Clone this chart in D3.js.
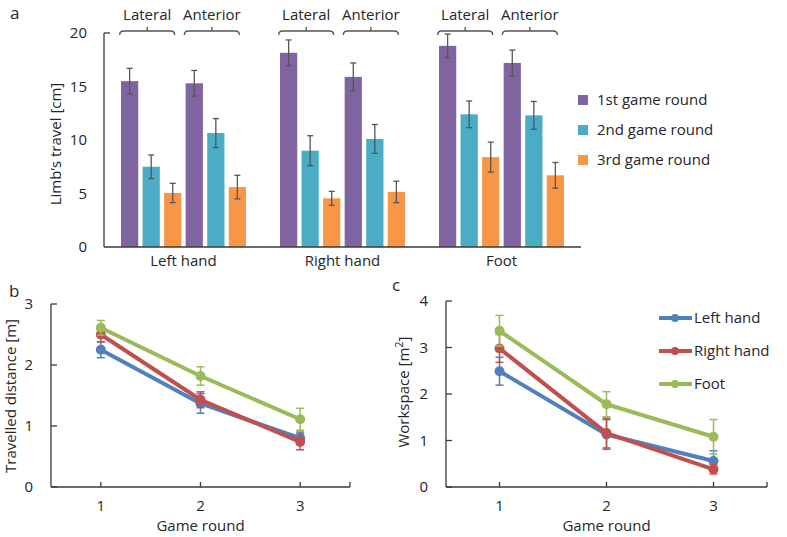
<!DOCTYPE html>
<html>
<head>
<meta charset="utf-8">
<script src="https://cdn.jsdelivr.net/npm/d3@7"></script>
<style>
  body { margin: 0; background: #fff; }
  svg text { font-family: "Open Sans", sans-serif; fill: #262626; }
</style>
</head>
<body>
<svg id="chart" width="787" height="537"></svg>
<script>
// ---- panel a data (order: Left hand, Right hand, Foot; each Lateral then Anterior)
const limbs = ["Left hand", "Right hand", "Foot"]
const views = ["Lateral", "Anterior"]
const rounds = ["1st game round", "2nd game round", "3rd game round"]
const round1Travel = [15.5, 15.3, 18.15, 15.9, 18.8, 17.2]
const round1Err = [1.2, 1.2, 1.2, 1.3, 1.1, 1.2]
const round2Travel = [7.5, 10.65, 9.0, 10.1, 12.4, 12.3]
const round2Err = [1.1, 1.35, 1.4, 1.35, 1.25, 1.3]
const round3Travel = [5.05, 5.6, 4.55, 5.15, 8.4, 6.7]
const round3Err = [0.9, 1.1, 0.65, 1.0, 1.4, 1.2]
const travelTicks = [0, 5, 10, 15, 20]

// ---- panels b and c
const gameRounds = [1, 2, 3]
const distLeft = [2.25, 1.37, 0.80], distLeftErr = [0.13, 0.16, 0.10]
const distRight = [2.50, 1.43, 0.74], distRightErr = [0.12, 0.13, 0.13]
const distFoot = [2.61, 1.82, 1.11], distFootErr = [0.12, 0.15, 0.18]
const distTicks = [0, 1, 2, 3]
const wsLeft = [2.49, 1.13, 0.56], wsLeftErr = [0.30, 0.32, 0.22]
const wsRight = [2.98, 1.16, 0.38], wsRightErr = [0.30, 0.32, 0.10]
const wsFoot = [3.36, 1.78, 1.08], wsFootErr = [0.33, 0.27, 0.37]
const wsTicks = [0, 1, 2, 3, 4]
const lineNames = ["Left hand", "Right hand", "Foot"]

const barColors = ["#8064A2", "#4BACC6", "#F79646"]
const lineColors = ["#4F81BD", "#C0504D", "#9BBB59"]
const axisColor = "#3a3a3a"

const svg = d3.select("#chart")

// ================= panel a =================
const roundVals = [round1Travel, round2Travel, round3Travel]
const roundErrs = [round1Err, round2Err, round3Err]
const barRows = []
limbs.forEach((limb, li) => {
  views.forEach((view, vi) => {
    rounds.forEach((r, ri) => {
      barRows.push({ limb, view, round: ri, key: view + ri,
        value: roundVals[ri][li * 2 + vi], err: roundErrs[ri][li * 2 + vi] })
    })
  })
})

const xa = d3.scaleBand().domain(limbs).range([104, 581])
const xin = d3.scaleBand()
  .domain(views.flatMap(v => rounds.map((r, i) => v + i)))
  .range([17, 142]).paddingInner(0.2)
const ya = d3.scaleLinear().domain([0, 20]).range([247, 33])

const ga = svg.append("g")
ga.selectAll("rect.bar").data(barRows).enter().append("rect")
  .attr("class", "bar")
  .attr("x", d => xa(d.limb) + xin(d.key))
  .attr("width", xin.bandwidth())
  .attr("y", d => ya(d.value))
  .attr("height", d => ya(0) - ya(d.value))
  .attr("fill", d => barColors[d.round])

const eb = ga.selectAll("g.err").data(barRows).enter().append("g")
  .attr("stroke", "#555").attr("stroke-width", 1.3)
eb.append("line")
  .attr("x1", d => xa(d.limb) + xin(d.key) + xin.bandwidth() / 2)
  .attr("x2", d => xa(d.limb) + xin(d.key) + xin.bandwidth() / 2)
  .attr("y1", d => ya(d.value + d.err)).attr("y2", d => ya(d.value - d.err))
eb.selectAll("line.cap").data(d => [d.value + d.err, d.value - d.err].map(v => ({ d, v })))
  .enter().append("line").attr("class", "cap")
  .attr("x1", o => xa(o.d.limb) + xin(o.d.key) + xin.bandwidth() / 2 - 3)
  .attr("x2", o => xa(o.d.limb) + xin(o.d.key) + xin.bandwidth() / 2 + 3)
  .attr("y1", o => ya(o.v)).attr("y2", o => ya(o.v))

// axes
ga.append("line").attr("x1", 104).attr("x2", 104).attr("y1", ya(20)).attr("y2", ya(0))
  .attr("stroke", axisColor).attr("stroke-width", 1.3)
ga.append("line").attr("x1", 104).attr("x2", 110).attr("y1", ya(20)).attr("y2", ya(20))
  .attr("stroke", axisColor).attr("stroke-width", 1.3)
ga.append("line").attr("x1", 104).attr("x2", 581).attr("y1", ya(0)).attr("y2", ya(0))
  .attr("stroke", axisColor).attr("stroke-width", 1.3)
ga.selectAll("text.ytick").data(travelTicks).enter().append("text")
  .attr("x", 87).attr("y", d => ya(d) + 5).attr("text-anchor", "end")
  .attr("font-size", 15).text(d => d)
ga.selectAll("text.xcat").data(limbs).enter().append("text")
  .attr("x", d => xa(d) + xa.bandwidth() / 2).attr("y", 266)
  .attr("text-anchor", "middle").attr("font-size", 15).text(d => d)
ga.append("text").attr("transform", "translate(61,144) rotate(-90)")
  .attr("text-anchor", "middle").attr("font-size", 15).text("Limb\u2019s travel [cm]")
ga.append("text").attr("x", 10).attr("y", 19).attr("font-size", 17).text("a")

// braces + view labels
const braceRows = limbs.flatMap(l => views.map(v => {
  const keys = rounds.map((r, i) => v + i)
  const c = xa(l) + (xin(keys[0]) + xin(keys[2]) + xin.bandwidth()) / 2 - 4
  return { view: v, c }
}))
ga.selectAll("path.brace").data(braceRows).enter().append("path")
  .attr("fill", "none").attr("stroke", "#555").attr("stroke-width", 1.3)
  .attr("d", d => {
    const p = d3.path(), h = 27.5, y = 31
    p.moveTo(d.c - h, y + 4)
    p.quadraticCurveTo(d.c - h, y, d.c - h + 4, y)
    p.lineTo(d.c + h - 4, y)
    p.quadraticCurveTo(d.c + h, y, d.c + h, y + 4)
    p.moveTo(d.c, y); p.lineTo(d.c, y - 4)
    return p.toString()
  })
ga.selectAll("text.view").data(braceRows).enter().append("text")
  .attr("x", d => d.c).attr("y", 20).attr("text-anchor", "middle")
  .attr("font-size", 15).text(d => d.view)

// legend a
const lga = ga.selectAll("g.leg").data(rounds).enter().append("g")
  .attr("transform", (d, i) => `translate(578,${100 + i * 30})`)
lga.append("rect").attr("x", 0).attr("y", -5).attr("width", 10).attr("height", 10)
  .attr("fill", (d, i) => barColors[i])
lga.append("text").attr("x", 19).attr("y", 5).attr("font-size", 15).text(d => d)

// ================= panels b, c =================
function linePanel(opts) {
  const g = svg.append("g")
  const x = d3.scaleLinear().domain([0.5, 3.5]).range([opts.x0, opts.x1])
  const y = d3.scaleLinear().domain([0, opts.ymax]).range([487, opts.ytop])

  g.append("line").attr("x1", opts.x0).attr("x2", opts.x0).attr("y1", y(opts.ymax)).attr("y2", y(0))
    .attr("stroke", axisColor).attr("stroke-width", 1.3)
  g.append("line").attr("x1", opts.x0).attr("x2", opts.x1).attr("y1", y(0)).attr("y2", y(0))
    .attr("stroke", axisColor).attr("stroke-width", 1.3)
  g.selectAll("line.yt").data(opts.ticks).enter().append("line")
    .attr("x1", opts.x0).attr("x2", opts.x0 + 6).attr("y1", d => y(d)).attr("y2", d => y(d))
    .attr("stroke", axisColor).attr("stroke-width", 1.3)
  g.selectAll("line.xt").data([1, 2, 3, 3.5]).enter().append("line")
    .attr("x1", d => x(d)).attr("x2", d => x(d)).attr("y1", y(0)).attr("y2", y(0) - 5)
    .attr("stroke", axisColor).attr("stroke-width", 1.3)
  g.selectAll("text.yl").data(opts.ticks).enter().append("text")
    .attr("x", opts.x0 - 18).attr("y", d => y(d) + 5).attr("text-anchor", "end")
    .attr("font-size", 15).text(d => d)
  g.selectAll("text.xl").data(gameRounds).enter().append("text")
    .attr("x", d => x(d)).attr("y", 511).attr("text-anchor", "middle")
    .attr("font-size", 15).text(d => d)
  g.append("text").attr("x", x(2)).attr("y", 531).attr("text-anchor", "middle")
    .attr("font-size", 15).text("Game round")
  const yt = g.append("text").attr("transform", `translate(${opts.titleX},${opts.titleY}) rotate(-90)`)
    .attr("text-anchor", "middle").attr("font-size", 15)
  yt.append("tspan").text(opts.title)
  if (opts.sup) {
    yt.append("tspan").attr("dy", -6).attr("font-size", 11).text(opts.sup)
    yt.append("tspan").attr("dy", 6).text("]")
  }
  g.append("text").attr("x", opts.letterX).attr("y", opts.letterY).attr("font-size", 17).text(opts.letter)

  const line = d3.line().x((d, i) => x(gameRounds[i])).y(d => y(d))
  opts.series.forEach((s, si) => {
    const col = lineColors[si]
    const sg = g.append("g")
    s.vals.forEach((v, i) => {
      const cx = x(gameRounds[i])
      sg.append("line").attr("x1", cx).attr("x2", cx).attr("y1", y(v + s.err[i])).attr("y2", y(v - s.err[i]))
        .attr("stroke", col).attr("stroke-width", 1.5)
      ;[v + s.err[i], v - s.err[i]].forEach(e => {
        sg.append("line").attr("x1", cx - 4).attr("x2", cx + 4).attr("y1", y(e)).attr("y2", y(e))
          .attr("stroke", col).attr("stroke-width", 1.5)
      })
    })
    sg.append("path").datum(s.vals).attr("d", line).attr("fill", "none")
      .attr("stroke", col).attr("stroke-width", 4).attr("stroke-linejoin", "round")
    sg.selectAll("circle").data(s.vals).enter().append("circle")
      .attr("cx", (d, i) => x(gameRounds[i])).attr("cy", d => y(d)).attr("r", 5).attr("fill", col)
  })

  if (opts.legend) {
    const lg = g.selectAll("g.lg").data(lineNames).enter().append("g")
      .attr("transform", (d, i) => `translate(659,${318 + i * 33})`)
    lg.append("line").attr("x1", 0).attr("x2", 33).attr("stroke", (d, i) => lineColors[i]).attr("stroke-width", 4)
    lg.append("circle").attr("cx", 16).attr("r", 4).attr("fill", (d, i) => lineColors[i])
    lg.append("text").attr("x", 35).attr("y", 5).attr("font-size", 15).text(d => d)
  }
}

linePanel({
  x0: 51, x1: 350, ymax: 3, ytop: 304, ticks: distTicks,
  title: "Travelled distance [m]", titleX: 16, titleY: 396,
  letter: "b", letterX: 9, letterY: 297,
  series: [
    { vals: distLeft, err: distLeftErr },
    { vals: distRight, err: distRightErr },
    { vals: distFoot, err: distFootErr }
  ]
})

linePanel({
  x0: 446, x1: 767, ymax: 4, ytop: 301, ticks: wsTicks,
  title: "Workspace [m", sup: "2", titleX: 409, titleY: 392,
  letter: "c", letterX: 392, letterY: 291, legend: true,
  series: [
    { vals: wsLeft, err: wsLeftErr },
    { vals: wsRight, err: wsRightErr },
    { vals: wsFoot, err: wsFootErr }
  ]
})
</script>
</body>
</html>
